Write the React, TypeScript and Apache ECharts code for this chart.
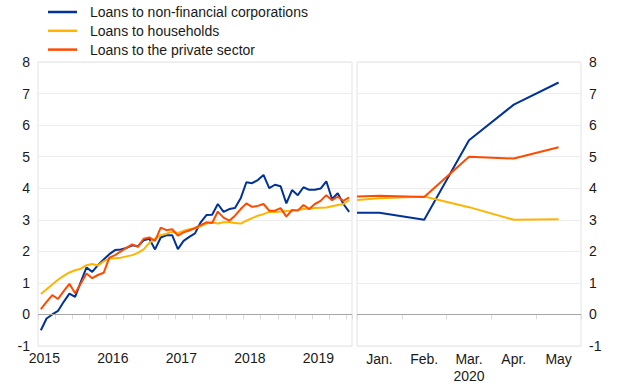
import React, { useEffect, useRef } from "react";
import * as echarts from "echarts";

const seriesNames = [
  "Loans to non-financial corporations",
  "Loans to households",
  "Loans to the private sector",
];
const seriesColors = ["#003299", "#ffb400", "#ff4b00"];

const yearLabels = ["2015", "2016", "2017", "2018", "2019"];
const monthsShown = 55; // Jan 2015 - Jul 2019

const nfcHistory = [
  -0.5, -0.13, 0.0, 0.11, 0.4, 0.66, 0.56, 1.03, 1.49, 1.35, 1.56, 1.74,
  1.91, 2.04, 2.06, 2.11, 2.19, 2.16, 2.35, 2.4, 2.06, 2.44, 2.51, 2.51,
  2.07, 2.33, 2.46, 2.57, 2.92, 3.15, 3.16, 3.5, 3.25, 3.34, 3.37, 3.68,
  4.19, 4.16, 4.26, 4.42, 4.0, 4.11, 4.06, 3.52, 3.94, 3.78, 4.03, 3.95,
  3.95, 3.99, 4.22, 3.66, 3.84, 3.5, 3.25,
];
const hhHistory = [
  0.65, 0.8, 0.95, 1.1, 1.22, 1.33, 1.4, 1.45, 1.56, 1.6, 1.55, 1.68,
  1.77, 1.78, 1.8, 1.84, 1.88, 1.95, 2.06, 2.27, 2.4, 2.51, 2.56, 2.62,
  2.58, 2.65, 2.7, 2.72, 2.8, 2.88, 2.92, 2.88, 2.92, 2.92, 2.9, 2.88,
  2.97, 3.05, 3.13, 3.18, 3.25, 3.25, 3.26, 3.28, 3.29, 3.31, 3.34, 3.35,
  3.37, 3.38, 3.39, 3.43, 3.47, 3.5, 3.62,
];
const pspHistory = [
  0.17, 0.4, 0.61, 0.49, 0.74, 0.97, 0.67, 0.98, 1.3, 1.15, 1.25, 1.32,
  1.8, 1.88, 2.0, 2.11, 2.22, 2.14, 2.4, 2.44, 2.33, 2.75, 2.67, 2.7,
  2.5, 2.6, 2.66, 2.74, 2.83, 2.92, 2.9, 3.26, 3.07, 2.97, 3.13, 3.34,
  3.52, 3.41, 3.44, 3.5, 3.29, 3.29, 3.37, 3.1, 3.31, 3.29, 3.47, 3.34,
  3.5, 3.6, 3.78, 3.62, 3.73, 3.6, 3.71,
];

const recentMonths = ["Jan.", "Feb.", "Mar.", "Apr.", "May"];
const recentYear = "2020";
// positions: -0.5 = panel start (Dec. 2019), then Jan..May
const recentPositions = [-0.5, 0, 1, 2, 3, 4];
const nfcRecent = [3.22, 3.22, 3.0, 5.52, 6.65, 7.35];
const hhRecent = [3.63, 3.68, 3.74, 3.4, 3.0, 3.02];
const pspRecent = [3.74, 3.76, 3.72, 5.0, 4.94, 5.3];

const FONT = "'Liberation Sans', Arial, Helvetica, sans-serif";
const TXT = "#1a1a1a";

export default function App() {
  const ref = useRef<HTMLDivElement>(null);

  useEffect(() => {
    if (!ref.current) return;
    const chart = echarts.init(ref.current, undefined, { renderer: "svg" });

    const monthCats: string[] = [];
    for (let i = 0; i < monthsShown; i++) {
      const y = yearLabels[Math.floor(i / 12)];
      monthCats.push(y + "-" + String((i % 12) + 1).padStart(2, "0"));
    }

    const zeroLine = {
      silent: true,
      symbol: ["none", "none"],
      label: { show: false },
      lineStyle: { color: "#a6a6a6", type: "solid", width: 1 },
      data: [{ yAxis: 0 }],
      animation: false,
    };

    const histData = [nfcHistory, hhHistory, pspHistory];
    const recData = [nfcRecent, hhRecent, pspRecent];

    const series: any[] = [];
    histData.forEach((d, k) => {
      series.push({
        name: seriesNames[k],
        type: "line",
        xAxisIndex: 0,
        yAxisIndex: 0,
        data: d,
        showSymbol: false,
        symbol: "none",
        lineStyle: { color: seriesColors[k], width: 2 },
        itemStyle: { color: seriesColors[k] },
        z: 3 + k,
        markLine: k === 0 ? zeroLine : undefined,
      });
    });
    recData.forEach((d, k) => {
      series.push({
        name: seriesNames[k],
        type: "line",
        xAxisIndex: 2,
        yAxisIndex: 1,
        data: d.map((v, i) => [recentPositions[i], v]),
        showSymbol: false,
        symbol: "none",
        lineStyle: { color: seriesColors[k], width: 2 },
        itemStyle: { color: seriesColors[k] },
        z: 3 + k,
        markLine: k === 0 ? zeroLine : undefined,
      });
    });

    const yAxisCommon = {
      type: "value",
      min: -1,
      max: 8,
      interval: 1,
      axisLine: { show: false },
      axisTick: { show: false },
      splitLine: { show: true, lineStyle: { color: "#ececec", width: 1 } },
      axisLabel: { fontSize: 14, color: TXT, fontFamily: FONT, margin: 8 },
    };

    chart.setOption({
      animation: false,
      textStyle: { fontFamily: FONT },
      legend: {
        orient: "vertical",
        left: 48,
        top: 4,
        padding: 0,
        itemWidth: 29,
        itemHeight: 2.5,
        itemGap: 2.8,
        icon: "rect",
        data: seriesNames,
        textStyle: {
          fontSize: 14,
          color: TXT,
          fontFamily: FONT,
          lineHeight: 16,
          padding: [0, 0, 0, 8],
        },
      },
      grid: [
        {
          left: 38,
          right: 268,
          top: 62,
          bottom: 41,
          show: true,
          borderColor: "#e3e3e3",
          borderWidth: 1,
          backgroundColor: "transparent",
        },
        {
          left: 357,
          right: 39,
          top: 62,
          bottom: 41,
          show: true,
          borderColor: "#e3e3e3",
          borderWidth: 1,
          backgroundColor: "transparent",
        },
      ],
      xAxis: [
        {
          type: "category",
          gridIndex: 0,
          data: monthCats,
          boundaryGap: true,
          axisLine: { show: false },
          axisTick: {
            show: true,
            length: 5,
            interval: (i: number) => i % 3 === 0,
            lineStyle: { color: "#dcdcdc" },
          },
          splitLine: { show: false },
          axisLabel: {
            interval: (i: number) => i % 12 === 0,
            formatter: (v: string) => v.slice(0, 4),
            fontSize: 14,
            color: TXT,
            fontFamily: FONT,
            margin: 5,
            padding: [0, 0, 0, 7],
          },
        },
        {
          type: "category",
          gridIndex: 1,
          data: recentMonths,
          boundaryGap: true,
          axisLine: { show: false },
          axisTick: { show: true, length: 5, lineStyle: { color: "#dcdcdc" } },
          splitLine: { show: false },
          axisLabel: {
            interval: 0,
            formatter: (v: string, i: number) =>
              i === 2 ? v + "\n" + recentYear : v,
            fontSize: 14,
            lineHeight: 17,
            color: TXT,
            fontFamily: FONT,
            margin: 4,
          },
        },
        {
          type: "value",
          gridIndex: 1,
          min: -0.5,
          max: 4.5,
          show: false,
          splitLine: { show: false },
        },
      ],
      yAxis: [
        { ...yAxisCommon, gridIndex: 0, position: "left" },
        { ...yAxisCommon, gridIndex: 1, position: "right" },
      ],
      series,
    });

    return () => chart.dispose();
  }, []);

  return (
    <div
      ref={ref}
      style={{ position: "absolute", left: 0, top: 0, width: 620, height: 387 }}
    />
  );
}
